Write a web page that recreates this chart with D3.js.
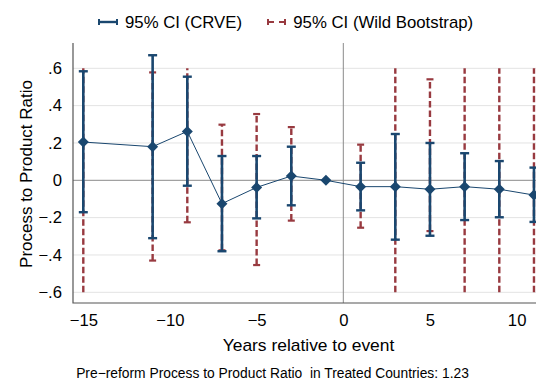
<!DOCTYPE html>
<html><head><meta charset="utf-8">
<script src="https://cdn.jsdelivr.net/npm/d3@7"></script>
<style>body{margin:0;background:#fff}svg{display:block;font-family:"Liberation Sans",Arial,Helvetica,sans-serif}text{white-space:pre}</style>
</head><body>
<script>
const years = [-15, -11, -9, -7, -5, -3, -1, 1, 3, 5, 7, 9, 11];
const estimate = [0.205, 0.18, 0.262, -0.125, -0.038, 0.023, 0, -0.034, -0.034, -0.048, -0.034, -0.048, -0.079];
const crveLo = [-0.171, -0.31, -0.029, -0.38, -0.204, -0.134, null, -0.161, -0.318, -0.297, -0.213, -0.198, -0.223];
const crveHi = [0.584, 0.67, 0.555, 0.13, 0.13, 0.18, null, 0.094, 0.248, 0.2, 0.145, 0.103, 0.068];
const wildLo = [-0.6, -0.43, -0.225, -0.375, -0.454, -0.216, null, -0.254, -0.6, -0.272, -0.6, -0.6, -0.6];
const wildHi = [0.6, 0.578, 0.6, 0.298, 0.355, 0.285, null, 0.191, 0.6, 0.541, 0.6, 0.6, 0.6];
const yTicks = [0.6, 0.4, 0.2, 0, -0.2, -0.4, -0.6];
const xTicks = [-15, -10, -5, 0, 5, 10];
const legendLabels = ["95% CI (CRVE)", "95% CI (Wild Bootstrap)"];
const xTitle = "Years relative to event";
const yTitle = "Process to Product Ratio";
const caption = "Pre\u2212reform Process to Product Ratio  in Treated Countries: 1.23";

const W = 536, H = 379;
const blue = "#1a476f", red = "#983a40";
const svg = d3.select("body").append("svg").attr("width", W).attr("height", H);

// fit a text element's font size to a target width
function fit(sel, target) {
  sel.attr("font-size", 15);
  const w = sel.node().getComputedTextLength();
  const fs = 15 * target / w;
  sel.attr("font-size", fs);
  return fs;
}
function measure(str, target) {
  const t = svg.append("text").text(str);
  const fs = fit(t, target);
  t.remove();
  return fs;
}
const tickFS = measure("\u221215", 28.3);

const x = d3.scaleLinear().domain([-15, 0]).range([83.3, 343.3]);
const y = d3.scaleLinear().domain([-0.6, 0.6]).range([292.3, 68.3]);
const plotTop = 43, plotBottom = 303, plotLeft = 73, plotRight = W;

const data = years.map((t, i) => ({t, est: estimate[i], cl: crveLo[i], ch: crveHi[i], wl: wildLo[i], wh: wildHi[i]}));
const fmt = v => v === 0 ? "0" : (v < 0 ? "\u2212" : "") + d3.format(".1f")(Math.abs(v)).replace(/^0/, "");

// gridlines
svg.append("g").selectAll("line").data(yTicks.filter(v => v !== 0)).join("line")
  .attr("x1", plotLeft).attr("x2", plotRight).attr("y1", d => y(d)).attr("y2", d => y(d))
  .attr("stroke", "#e3e3e3").attr("stroke-width", 1);
// zero lines
svg.append("line").attr("x1", plotLeft).attr("x2", plotRight).attr("y1", y(0)).attr("y2", y(0))
  .attr("stroke", "#8a8a8a").attr("stroke-width", 1);
svg.append("line").attr("x1", x(0)).attr("x2", x(0)).attr("y1", plotTop).attr("y2", plotBottom)
  .attr("stroke", "#8a8a8a").attr("stroke-width", 1);

// y axis
const yAxis = d3.axisLeft(y).tickValues(yTicks).tickFormat(fmt).tickSize(0).tickPadding(11);
const gy = svg.append("g").attr("transform", `translate(${plotLeft},0)`).call(yAxis);
gy.select(".domain").remove();
gy.selectAll("text").attr("font-size", tickFS).attr("fill", "#000").attr("font-family", "Liberation Sans, Arial, sans-serif");
// x axis
const xAxis = d3.axisBottom(x).tickValues(xTicks).tickFormat(d => d < 0 ? "\u2212" + Math.abs(d) : String(d)).tickSize(0).tickPadding(11);
const gx = svg.append("g").attr("transform", `translate(0,${plotBottom})`).call(xAxis);
gx.select(".domain").remove();
gx.selectAll("text").attr("font-size", tickFS).attr("fill", "#000").attr("font-family", "Liberation Sans, Arial, sans-serif");

// frame left & bottom
svg.append("path").attr("d", `M${plotLeft},${plotTop}V${plotBottom}H${plotRight}`)
  .attr("fill", "none").attr("stroke", "#555").attr("stroke-width", 1.2);

// wild bootstrap CIs
const ci = data.filter(d => d.cl !== null);
const wg = svg.append("g");
wg.selectAll("line.w").data(ci).join("line").attr("class", "w")
  .attr("x1", d => x(d.t)).attr("x2", d => x(d.t)).attr("y1", d => y(d.wl)).attr("y2", d => y(d.wh))
  .attr("stroke", red).attr("stroke-width", 2.4).attr("stroke-dasharray", "6.5,3");
const capW = 3.5;
wg.selectAll("line.wcl").data(ci.filter(d => d.wl > -0.6)).join("line").attr("class", "wcl")
  .attr("x1", d => x(d.t) - capW).attr("x2", d => x(d.t) + capW).attr("y1", d => y(d.wl)).attr("y2", d => y(d.wl))
  .attr("stroke", red).attr("stroke-width", 2.2);
wg.selectAll("line.wch").data(ci.filter(d => d.wh < 0.6)).join("line").attr("class", "wch")
  .attr("x1", d => x(d.t) - capW).attr("x2", d => x(d.t) + capW).attr("y1", d => y(d.wh)).attr("y2", d => y(d.wh))
  .attr("stroke", red).attr("stroke-width", 2.2);

// CRVE CIs
const cg = svg.append("g");
cg.selectAll("line.c").data(ci).join("line").attr("class", "c")
  .attr("x1", d => x(d.t)).attr("x2", d => x(d.t)).attr("y1", d => y(d.cl)).attr("y2", d => y(d.ch))
  .attr("stroke", blue).attr("stroke-width", 2.6);
const capB = 4.5;
["cl", "ch"].forEach(k => {
  cg.selectAll("line." + k).data(ci).join("line").attr("class", k)
    .attr("x1", d => x(d.t) - capB).attr("x2", d => x(d.t) + capB).attr("y1", d => y(d[k])).attr("y2", d => y(d[k]))
    .attr("stroke", blue).attr("stroke-width", 2.4);
});

// connecting line
svg.append("path").datum(data)
  .attr("d", d3.line().x(d => x(d.t)).y(d => y(d.est)))
  .attr("fill", "none").attr("stroke", blue).attr("stroke-width", 1);
// diamonds
const ds = 5.5;
svg.append("g").selectAll("path").data(data).join("path")
  .attr("d", d => `M${x(d.t)},${y(d.est) - ds}L${x(d.t) + ds},${y(d.est)}L${x(d.t)},${y(d.est) + ds}L${x(d.t) - ds},${y(d.est)}Z`)
  .attr("fill", blue);

// titles
const xt = svg.append("text").attr("x", 308.5).attr("y", 351).attr("text-anchor", "middle").text(xTitle);
fit(xt, 171.7);
const yt = svg.append("text").attr("transform", "translate(31.5,174) rotate(-90)").attr("text-anchor", "middle").text(yTitle);
fit(yt, 188);
const cp = svg.append("text").attr("x", 272.5).attr("y", 377.5).attr("text-anchor", "middle").text(caption);
fit(cp, 393);

// legend
const lg = svg.append("g");
const ly = 22;
lg.append("line").attr("x1", 99).attr("x2", 117).attr("y1", ly).attr("y2", ly).attr("stroke", blue).attr("stroke-width", 2.4);
[99, 117].forEach(px => lg.append("line").attr("x1", px).attr("x2", px).attr("y1", ly - 3).attr("y2", ly + 3).attr("stroke", blue).attr("stroke-width", 2));
const l1 = lg.append("text").attr("x", 125).attr("y", ly + 6).text(legendLabels[0]);
fit(l1, 117);
lg.append("line").attr("x1", 268).attr("x2", 285).attr("y1", ly).attr("y2", ly).attr("stroke", red).attr("stroke-width", 2.2).attr("stroke-dasharray", "6,5");
[268, 285].forEach(px => lg.append("line").attr("x1", px).attr("x2", px).attr("y1", ly - 3).attr("y2", ly + 3).attr("stroke", red).attr("stroke-width", 2));
const l2 = lg.append("text").attr("x", 293.3).attr("y", ly + 6).text(legendLabels[1]);
fit(l2, 180);
</script>
</body></html>
